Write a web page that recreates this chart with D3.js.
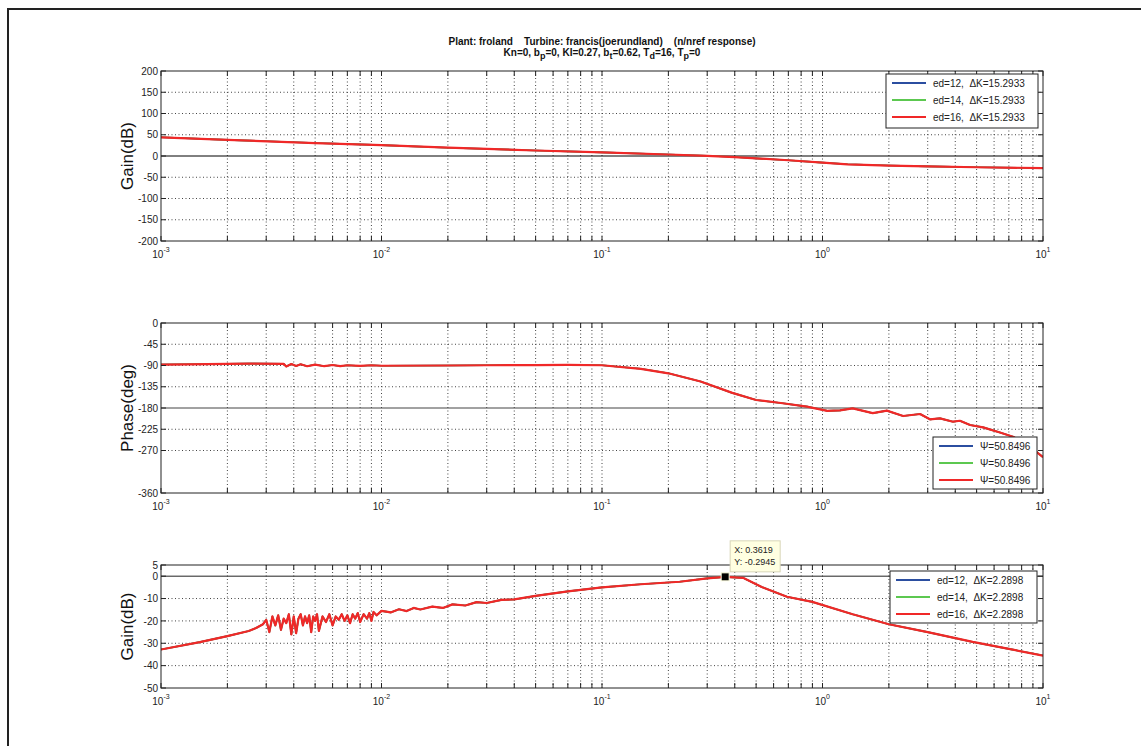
<!DOCTYPE html>
<html>
<head>
<meta charset="utf-8">
<script src="https://cdn.jsdelivr.net/npm/d3@7/dist/d3.min.js"></script>
<style>
body { margin: 0; background: #fff; }
svg  { display: block; font-family: "Liberation Sans", Arial, sans-serif; }
text { white-space: pre; }
.ticklabel { font-size: 10px; fill: #222; }
.grid line { stroke: #444; stroke-width: 1; stroke-dasharray: 1,2.5; }
.frame { fill: none; stroke: #222; stroke-width: 1; }
.ticks line { stroke: #222; stroke-width: 1; }
.legend rect { fill: #fff; stroke: #222; stroke-width: 1; }
.legend text { font-size: 10px; fill: #222; }
</style>
</head>
<body>
<svg id="fig" width="1141" height="746"></svg>
<script>
'use strict';

// ---- data: [frequency, value] ----
let openGain = [
  [0.001, 44], [0.002, 38], [0.005, 30.5], [0.01, 25.5], [0.02, 19.5],
  [0.05, 13], [0.1, 8.5], [0.2, 3.5], [0.3, 0.5], [0.4, -2.5], [0.5, -5.5],
  [0.7, -10], [1, -15.5], [1.3, -19.5], [2, -22.5], [3, -24.5], [5, -26.5],
  [10, -28.5]
];

let phaseDeg = [
  [0.001, -88], [0.0013, -87.5], [0.0025, -86], [0.0036, -86.5],
  [0.0037, -92], [0.0039, -87], [0.0041, -91], [0.0043, -87.5], [0.0046, -91.5],
  [0.0050, -88], [0.0055, -91.5], [0.0060, -89], [0.0065, -91.5], [0.0070, -89.5],
  [0.0080, -91], [0.0090, -89.5], [0.01, -90.5], [0.02, -90], [0.03, -89.5],
  [0.05, -89], [0.07, -88.5], [0.1, -89.5], [0.15, -97], [0.2, -106.5],
  [0.28, -124], [0.39, -148], [0.5, -163], [0.66, -170], [0.85, -177],
  [1.05, -186], [1.2, -185], [1.37, -180.7], [1.69, -191], [1.96, -185.6],
  [2.32, -197], [2.77, -192.7], [3.07, -204], [3.41, -202], [3.91, -209],
  [4.2, -207], [4.67, -216], [5.35, -221], [6.38, -232], [7.31, -241],
  [8.5, -258], [10, -284]
];

let closedGain = [
  [0.001, -32.8], [0.0015, -29.5], [0.002, -26.8], [0.0025, -24.5], [0.0027, -23.2],
  [0.0029, -21.5], [0.0030, -19.5], [0.0031, -25], [0.0032, -18], [0.0033, -22],
  [0.0034, -17.5], [0.0035, -24], [0.0036, -19], [0.0037, -21], [0.0038, -17],
  [0.0039, -26], [0.0040, -18], [0.0041, -25.5], [0.0042, -19], [0.0043, -17],
  [0.0044, -22], [0.0045, -18], [0.0046, -21], [0.0047, -17.5], [0.0048, -25],
  [0.0049, -18], [0.0050, -20], [0.0051, -17], [0.0052, -24.5], [0.0054, -18],
  [0.0056, -20.5], [0.0058, -17], [0.0060, -22], [0.0062, -18], [0.0064, -19.5],
  [0.0066, -17], [0.0068, -20], [0.0070, -17.5], [0.0072, -21], [0.0074, -17],
  [0.0076, -19], [0.0078, -16.5], [0.0080, -20.5], [0.0083, -17], [0.0086, -19],
  [0.0088, -16.5], [0.0090, -20], [0.0092, -16], [0.0095, -17.5], [0.01, -15.5],
  [0.011, -16.2], [0.012, -14.8], [0.013, -15.6], [0.014, -14.2], [0.015, -14.9],
  [0.017, -13.6], [0.019, -14.2], [0.021, -12.6], [0.024, -13.1], [0.027, -11.6],
  [0.03, -12], [0.035, -10.6], [0.04, -10.4], [0.05, -8.8], [0.07, -6.8],
  [0.1, -5], [0.15, -3.6], [0.225, -2.5], [0.3, -1], [0.3619, -0.29],
  [0.436, -0.75], [0.53, -4.8], [0.69, -9.2], [0.9, -11.5], [1.37, -17],
  [2, -21.5], [3, -25], [4.8, -29.4], [7, -32.5], [10, -35.5]
];

let seriesColors  = ["#2b4ea0", "#5cc850", "#f02828"];
let gainLegend    = ["ed=12,  \u0394K=15.2933", "ed=14,  \u0394K=15.2933", "ed=16,  \u0394K=15.2933"];
let phaseLegend   = ["\u03A8=50.8496", "\u03A8=50.8496", "\u03A8=50.8496"];
let closedLegend  = ["ed=12,  \u0394K=2.2898", "ed=14,  \u0394K=2.2898", "ed=16,  \u0394K=2.2898"];
let gainTicks     = [200, 150, 100, 50, 0, -50, -100, -150, -200];
let phaseTicks    = [0, -45, -90, -135, -180, -225, -270, -360];
let closedTicks   = [5, 0, -10, -20, -30, -40, -50];
let decades       = [-3, -2, -1, 0, 1];
let titleLines    = ["Plant: froland    Turbine: francis(joerundland)    (n/nref response)",
                     "Kn=0, b_p=0, KI=0.27, b_t=0.62, T_d=16, T_p=0"];
let dataTip       = { x: 0.3619, y: -0.2945 };

let svg = d3.select("#fig"),
    left = 161, right = 1043;

let x = d3.scaleLog().domain([1e-3, 10]).range([left, right]);

let majors = decades.map(function(d) { return Math.pow(10, d); });
let minors = [];
decades.slice(0, -1).forEach(function(d) {
  for (let m = 2; m <= 9; m++) minors.push(m * Math.pow(10, d));
});
let allX = majors.concat(minors);

let panels = [
  { top: 71,  bottom: 241, domain: [-200, 200], ticks: gainTicks,   label: "Gain(dB)",
    ref: 0,    ref_color: "#000", data: openGain,   legend: gainLegend,
    box: { x: 886, y: 74, w: 152, h: 54 } },
  { top: 323, bottom: 493, domain: [-360, 0],   ticks: phaseTicks,  label: "Phase(deg)",
    ref: -180, ref_color: "#444", data: phaseDeg,   legend: phaseLegend,
    box: { x: 933, y: 437, w: 104, h: 52 } },
  { top: 565, bottom: 688, domain: [-50, 5],    ticks: closedTicks, label: "Gain(dB)",
    ref: 0,    ref_color: "#222", data: closedGain, legend: closedLegend,
    box: { x: 890, y: 571, w: 147, h: 52 } }
];

// outer figure frame
svg.append("rect")
    .attr("x", 8).attr("y", 9)
    .attr("width", 1300).attr("height", 900)
    .attr("fill", "none")
    .attr("stroke", "#222")
    .attr("stroke-width", 2);

// title, with _x subscripts
let title = svg.append("text")
    .attr("x", (left + right) / 2)
    .attr("text-anchor", "middle")
    .style("font-size", "10px")
    .style("font-weight", "bold")
    .style("fill", "#111");
titleLines.forEach(function(line, i) {
  let parts = line.split(/_(\w)/);
  parts.forEach(function(p, j) {
    let t = title.append("tspan").text(p);
    if (j == 0) t.attr("x", (left + right) / 2).attr("y", 45 + i * 11);
    else if (j % 2) t.attr("dy", 3).style("font-size", "9px");
    else t.attr("dy", -3);
  });
});

panels.forEach(function(p, pi) {
  let y = d3.scaleLinear().domain(p.domain).range([p.bottom, p.top]);
  let g = svg.append("g");

  g.append("clipPath").attr("id", "clip" + pi)
    .append("rect")
      .attr("x", left).attr("y", p.top)
      .attr("width", right - left).attr("height", p.bottom - p.top);

  // dotted grid
  let grid = g.append("g").attr("class", "grid");
  grid.selectAll(".vx")
      .data(allX.filter(function(f) { return f > 1e-3 && f < 10; }))
    .enter().append("line")
      .attr("x1", function(f) { return x(f); })
      .attr("x2", function(f) { return x(f); })
      .attr("y1", p.top).attr("y2", p.bottom);
  grid.selectAll(".hy")
      .data(p.ticks.filter(function(t) { return t != p.domain[0] && t != p.domain[1] && t != p.ref; }))
    .enter().append("line")
      .attr("x1", left).attr("x2", right)
      .attr("y1", function(t) { return y(t); })
      .attr("y2", function(t) { return y(t); });

  // reference line
  g.append("line")
      .attr("x1", left).attr("x2", right)
      .attr("y1", y(p.ref)).attr("y2", y(p.ref))
      .attr("stroke", p.ref_color);

  // curves: three identical runs, red drawn last
  let line = d3.line()
      .x(function(d) { return x(d[0]); })
      .y(function(d) { return y(d[1]); });
  g.append("g").attr("clip-path", "url(#clip" + pi + ")")
    .selectAll("path")
      .data(seriesColors)
    .enter().append("path")
      .attr("d", line(p.data))
      .attr("fill", "none")
      .attr("stroke", function(c) { return c; })
      .attr("stroke-width", function(c, i) { return i == 2 ? 2.2 : 1.6; })
      .attr("stroke-linejoin", "round");

  // frame and inner ticks
  g.append("rect").attr("class", "frame")
      .attr("x", left).attr("y", p.top)
      .attr("width", right - left).attr("height", p.bottom - p.top);
  let ticks = g.append("g").attr("class", "ticks");
  allX.forEach(function(f) {
    ticks.append("line").attr("x1", x(f)).attr("x2", x(f)).attr("y1", p.bottom).attr("y2", p.bottom - 5);
    ticks.append("line").attr("x1", x(f)).attr("x2", x(f)).attr("y1", p.top).attr("y2", p.top + 5);
  });
  p.ticks.forEach(function(t) {
    ticks.append("line").attr("x1", left).attr("x2", left + 5).attr("y1", y(t)).attr("y2", y(t));
    ticks.append("line").attr("x1", right).attr("x2", right - 5).attr("y1", y(t)).attr("y2", y(t));
  });

  // y tick labels
  g.selectAll(".ylab")
      .data(p.ticks)
    .enter().append("text")
      .attr("class", "ticklabel")
      .attr("x", left - 3)
      .attr("y", function(t) { return y(t); })
      .attr("dy", "0.36em")
      .attr("text-anchor", "end")
      .text(function(t) { return t; });

  // x tick labels 10^n
  let xl = g.selectAll(".xlab")
      .data(decades)
    .enter().append("text")
      .attr("class", "ticklabel")
      .attr("x", function(d) { return x(Math.pow(10, d)); })
      .attr("y", p.bottom + 17)
      .attr("text-anchor", "middle");
  xl.append("tspan").text("10");
  xl.append("tspan")
      .attr("dy", -6)
      .style("font-size", "7px")
      .text(function(d) { return d; });

  // y axis title
  svg.append("text")
      .attr("transform", "translate(133," + ((p.top + p.bottom) / 2) + ") rotate(-90)")
      .attr("text-anchor", "middle")
      .style("font-size", "17px")
      .style("fill", "#111")
      .text(p.label);

  // legend
  let lg = g.append("g").attr("class", "legend");
  lg.append("rect")
      .attr("x", p.box.x).attr("y", p.box.y)
      .attr("width", p.box.w).attr("height", p.box.h);
  p.legend.forEach(function(txt, i) {
    let ly = p.box.y + 9 + i * 17;
    lg.append("line")
        .attr("x1", p.box.x + 6).attr("x2", p.box.x + 40)
        .attr("y1", ly).attr("y2", ly)
        .attr("stroke", seriesColors[i])
        .attr("stroke-width", 2);
    lg.append("text")
        .attr("x", p.box.x + 47)
        .attr("y", ly)
        .attr("dy", "0.36em")
        .text(txt);
  });

  // data tip on the closed-loop panel
  if (pi == 2) {
    let px = x(dataTip.x), py = y(dataTip.y);
    let tip = svg.append("g");
    tip.append("rect")
        .attr("x", px + 5).attr("y", py - 36)
        .attr("width", 50).attr("height", 31)
        .attr("fill", "#ffffe1")
        .attr("stroke", "#d8d6b8");
    tip.append("text")
        .attr("x", px + 9).attr("y", py - 24)
        .style("font-size", "9px").style("fill", "#222")
        .text("X: " + dataTip.x);
    tip.append("text")
        .attr("x", px + 9).attr("y", py - 12)
        .style("font-size", "9px").style("fill", "#222")
        .text("Y: " + dataTip.y);
    tip.append("rect")
        .attr("x", px - 4).attr("y", py - 4)
        .attr("width", 8).attr("height", 8)
        .attr("fill", "#000")
        .attr("stroke", "#ffffe1");
  }
});
</script>
</body>
</html>
